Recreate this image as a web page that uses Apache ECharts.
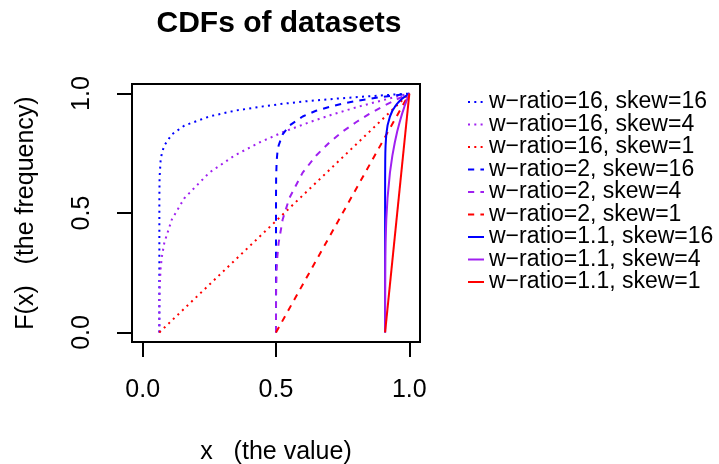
<!DOCTYPE html>
<html>
<head>
<meta charset="utf-8">
<style>
  html, body { margin: 0; padding: 0; background: #fff; }
  #chart { width: 719px; height: 464px; }
</style>
<script src="https://cdn.jsdelivr.net/npm/echarts@6/dist/echarts.min.js"></script>
</head>
<body>
<div id="chart"></div>
<script>
// x positions read along each family of curves (w-ratio 16, 2, 1.1)
const xW16 = [0.0625, 0.0626, 0.0634, 0.0672, 0.0719, 0.0813, 0.1094, 0.1563, 0.25, 0.3438, 0.4375, 0.5313, 0.625, 0.7188, 0.8125, 0.9063, 1]
const xW2 = [0.5, 0.50005, 0.5005, 0.5025, 0.505, 0.51, 0.525, 0.55, 0.6, 0.65, 0.7, 0.75, 0.8, 0.85, 0.9, 0.95, 1]
const xW11 = [0.9091, 0.90911, 0.9092, 0.9096, 0.91, 0.9109, 0.9136, 0.9182, 0.9273, 0.9364, 0.9455, 0.9545, 0.9636, 0.9727, 0.9818, 0.9909, 1]
// F(x) values at those positions
const fSkew16 = [0, 0.562, 0.649, 0.718, 0.75, 0.783, 0.829, 0.866, 0.904, 0.928, 0.944, 0.958, 0.969, 0.978, 0.986, 0.993, 1]
const fSkew4 = [0, 0.1, 0.178, 0.266, 0.316, 0.376, 0.473, 0.562, 0.669, 0.74, 0.795, 0.841, 0.88, 0.915, 0.946, 0.974, 1]
// skew=1 curves are straight lines
const xLinW16 = [0.0625, 1]
const xLinW2 = [0.5, 1]
const xLinW11 = [0.9091, 1]
const fSkew1 = [0, 1]

const tickValues = [0, 0.5, 1]
const tickLabels = ['0.0', '0.5', '1.0']

const seriesNames = [
  'w\u2212ratio=16, skew=16', 'w\u2212ratio=16, skew=4', 'w\u2212ratio=16, skew=1',
  'w\u2212ratio=2, skew=16', 'w\u2212ratio=2, skew=4', 'w\u2212ratio=2, skew=1',
  'w\u2212ratio=1.1, skew=16', 'w\u2212ratio=1.1, skew=4', 'w\u2212ratio=1.1, skew=1'
]

const blue = '#0000ff'
const purple = '#a020f0'
const red = '#ff0000'
const dotted = [2, 4.3]
const dashed = [6.2, 6.2]

const pair = (xs, ys) => xs.map((x, i) => [x, ys[i]])

const curves = [
  { x: xW16, f: fSkew16, color: blue, dash: dotted },
  { x: xW16, f: fSkew4, color: purple, dash: dotted },
  { x: xLinW16, f: fSkew1, color: red, dash: dotted },
  { x: xW2, f: fSkew16, color: blue, dash: dashed },
  { x: xW2, f: fSkew4, color: purple, dash: dashed },
  { x: xLinW2, f: fSkew1, color: red, dash: dashed },
  { x: xW11, f: fSkew16, color: blue, dash: 'solid' },
  { x: xW11, f: fSkew4, color: purple, dash: 'solid' },
  { x: xLinW11, f: fSkew1, color: red, dash: 'solid' }
]

const series = curves.map((c, i) => ({
  name: seriesNames[i],
  type: 'line',
  data: pair(c.x, c.f),
  showSymbol: false,
  symbol: 'none',
  silent: true,
  animation: false,
  color: c.color,
  lineStyle: { color: c.color, width: 2, type: c.dash }
}))

const font = 'Liberation Sans, Arial, Helvetica, sans-serif'

const chart = echarts.init(document.getElementById('chart'))
chart.setOption({
  animation: false,
  textStyle: { fontFamily: font, color: '#000' },
  title: {
    text: 'CDFs of datasets',
    left: 274,
    top: 4,
    textAlign: 'center',
    textStyle: { fontSize: 30, fontWeight: 'bold', color: '#000', fontFamily: font }
  },
  legend: {
    orient: 'vertical',
    left: 467,
    top: 90.5,
    padding: 0,
    itemWidth: 16,
    itemHeight: 12,
    itemGap: -0.5,
    selectedMode: false,
    itemStyle: { color: 'rgba(0,0,0,0)', borderColor: 'rgba(0,0,0,0)', borderWidth: 0, opacity: 0 },
    textStyle: { fontSize: 23, color: '#000', fontFamily: font },
    data: seriesNames
  },
  grid: {
    left: 132,
    right: 299,
    top: 84,
    bottom: 122,
    show: true,
    borderColor: '#000',
    borderWidth: 2,
    containLabel: false,
    outerBoundsMode: 'none'
  },
  xAxis: {
    type: 'value',
    min: -0.04,
    max: 1.04,
    name: 'x   (the value)',
    nameLocation: 'middle',
    nameGap: 98,
    nameTextStyle: { fontSize: 25, color: '#000', fontFamily: font },
    axisLine: { show: false, onZero: false },
    splitLine: { show: false },
    axisTick: { show: true, inside: false, length: 15, lineStyle: { color: '#000', width: 2 }, customValues: tickValues },
    axisLabel: {
      fontSize: 25, color: '#000', margin: 36, fontFamily: font,
      customValues: tickValues,
      formatter: v => tickLabels[tickValues.indexOf(Math.round(v * 10) / 10)]
    }
  },
  yAxis: {
    type: 'value',
    min: -0.04,
    max: 1.04,
    name: 'F(x)   (the frequency)',
    nameLocation: 'middle',
    nameGap: 93,
    nameRotate: 90,
    nameTextStyle: { fontSize: 25, color: '#000', fontFamily: font },
    axisLine: { show: false, onZero: false },
    splitLine: { show: false },
    axisTick: { show: true, inside: false, length: 15, lineStyle: { color: '#000', width: 2 }, customValues: tickValues },
    axisLabel: {
      fontSize: 25, color: '#000', margin: 37, rotate: 90, fontFamily: font,
      customValues: tickValues,
      formatter: v => tickLabels[tickValues.indexOf(Math.round(v * 10) / 10)]
    }
  },
  series: series
})
</script>
</body>
</html>
